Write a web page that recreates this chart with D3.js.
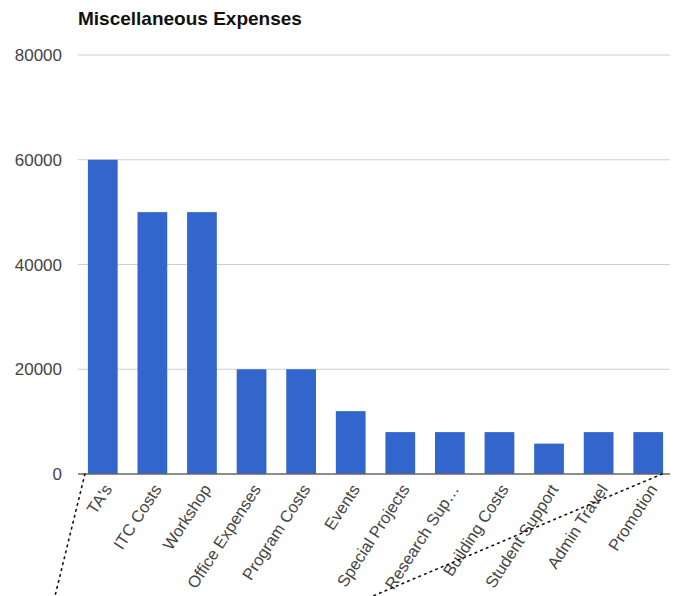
<!DOCTYPE html>
<html>
<head>
<meta charset="utf-8">
<script src="https://cdn.jsdelivr.net/npm/d3@7"></script>
<style>
  body { margin: 0; background: #fff; }
  svg { display: block; }
</style>
</head>
<body>
<svg id="chart" width="676" height="596"></svg>
<script>
// ── Miscellaneous Expenses — column chart ──────────────────────────────────

const categories = ["TA's", 'ITC Costs', 'Workshop', 'Office Expenses', 'Program Costs', 'Events',
  'Special Projects', 'Research Sup…', 'Building Costs', 'Student Support', 'Admin Travel', 'Promotion'];
const values = [60000, 50000, 50000, 20000, 20000, 12000, 8000, 8000, 8000, 5800, 8000, 8000];
const yTicks = [0, 20000, 40000, 60000, 80000];

const plotL = 78, plotR = 673, plotT = 55, plotB = 474;

const svg = d3.select('#chart');

const x = d3.scaleBand().domain(categories).range([plotL, plotR])
  .paddingInner(0.4).paddingOuter(0.2);
const y = d3.scaleLinear().domain([0, 80000]).range([plotB, plotT]);

// title
svg.append('text').attr('x', 78).attr('y', 25)
  .attr('font-family', 'Liberation Sans, Arial, sans-serif')
  .attr('font-weight', 'bold').attr('font-size', 19).attr('fill', '#111')
  .text('Miscellaneous Expenses');

// gridlines + y labels
yTicks.filter(t => t > 0).forEach(t => {
  svg.append('line').attr('x1', plotL).attr('x2', 670)
    .attr('y1', y(t)).attr('y2', y(t))
    .attr('stroke', '#cfcfcf').attr('stroke-width', 1);
});
yTicks.forEach(t => {
  svg.append('text').attr('x', 62).attr('y', y(t)).attr('dy', '0.36em')
    .attr('text-anchor', 'end')
    .attr('font-family', 'Liberation Sans, Arial, sans-serif')
    .attr('font-size', 17).attr('fill', '#444')
    .text(t);
});

// bars
svg.selectAll('rect.bar').data(categories).join('rect')
  .attr('class', 'bar')
  .attr('x', d => x(d)).attr('width', x.bandwidth())
  .attr('y', (d, i) => y(values[i]))
  .attr('height', (d, i) => plotB - y(values[i]))
  .attr('fill', '#3366cc');

// baseline
svg.append('line').attr('x1', plotL).attr('x2', 670)
  .attr('y1', plotB).attr('y2', plotB)
  .attr('stroke', '#666').attr('stroke-width', 1.5);

// slanted category labels
categories.forEach(c => {
  const cx = x(c) + x.bandwidth() / 2 + 5;
  svg.append('text')
    .attr('transform', `translate(${cx},${plotB + 12}) rotate(-57)`)
    .attr('text-anchor', 'end').attr('dy', '0.35em')
    .attr('font-family', 'Liberation Sans, Arial, sans-serif')
    .attr('font-size', 16.5).attr('fill', '#444')
    .text(c);
});

// dotted callout lines from the screenshot
const dots = [[x(categories[0]) - 3, plotB, 55, 596],
              [x(categories[11]) + x.bandwidth() - 1, plotB, 373, 596]];
dots.forEach(([x1, y1, x2, y2]) => {
  svg.append('line').attr('x1', x1).attr('y1', y1).attr('x2', x2).attr('y2', y2)
    .attr('stroke', '#111').attr('stroke-width', 1.6)
    .attr('stroke-dasharray', '1.6,4.5').attr('stroke-linecap', 'round');
});
</script>
</body>
</html>
